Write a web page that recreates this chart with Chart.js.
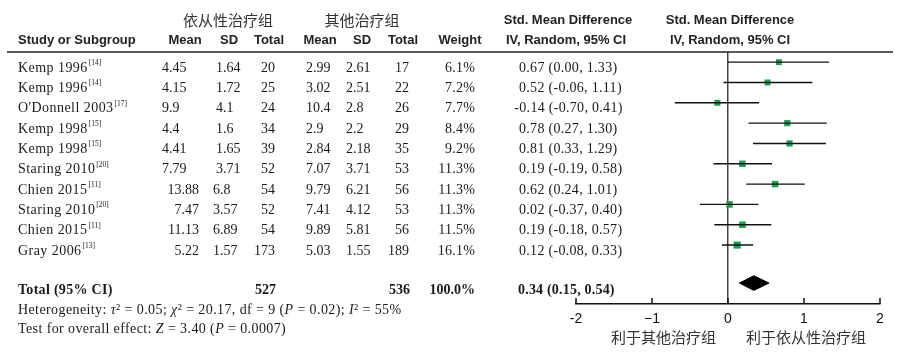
<!DOCTYPE html>
<html><head><meta charset="utf-8">
<script src="https://cdn.jsdelivr.net/npm/chart.js@4.4.1/dist/chart.umd.min.js"></script>
<style>html,body{margin:0;padding:0;background:#fff}#wrap{width:907px;height:353px;position:relative}</style>
</head><body><div id="wrap"><canvas id="c" width="907" height="353"></canvas></div>
<script>
// ---------- data ----------
const studies = ['Kemp 1996','Kemp 1996',"O'Donnell 2003",'Kemp 1998','Kemp 1998','Staring 2010','Chien 2015','Staring 2010','Chien 2015','Gray 2006'];
const refs = ['[14]','[14]','[17]','[15]','[15]','[20]','[11]','[20]','[11]','[13]'];
const expMean = [4.45,4.15,9.9,4.4,4.41,7.79,13.88,7.47,11.13,5.22];
const expSD = [1.64,1.72,4.1,1.6,1.65,3.71,6.8,3.57,6.89,1.57];
const expN = [20,25,24,34,39,52,54,52,54,173];
const ctlMean = [2.99,3.02,10.4,2.9,2.84,7.07,9.79,7.41,9.89,5.03];
const ctlSD = [2.61,2.51,2.8,2.2,2.18,3.71,6.21,4.12,5.81,1.55];
const ctlN = [17,22,26,29,35,53,56,53,56,189];
const weight = [6.1,7.2,7.7,8.4,9.2,11.3,11.3,11.3,11.5,16.1];
const smd = [0.67,0.52,-0.14,0.78,0.81,0.19,0.62,0.02,0.19,0.12];
const ciLow = [0.00,-0.06,-0.70,0.27,0.33,-0.19,0.24,-0.37,-0.18,-0.08];
const ciHigh = [1.33,1.11,0.41,1.30,1.29,0.58,1.01,0.40,0.57,0.33];
const totalLabel = 'Total (95% CI)';
const totalExpN = 527, totalCtlN = 536, totalWeight = 100.0;
const totalSmd = 0.34, totalLow = 0.15, totalHigh = 0.54;
const xTickValues = [-2,-1,0,1,2];
const xTickLabels = ['-2','\u22121','0','1','2'];
const groupLabels = ['依从性治疗组','其他治疗组'];
const favourLabels = ['利于其他治疗组','利于依从性治疗组'];
const effectTitle = 'Std. Mean Difference';
const methodTitle = 'IV, Random, 95% CI';
const colHeaders = ['Study or Subgroup','Mean','SD','Total','Mean','SD','Total','Weight'];
const heterogeneity = [['Heterogeneity: ',0],['τ',1],['² = 0.05; ',0],['χ',1],['² = 20.17, df = 9 (',0],['P',1],[' = 0.02); ',0],['I',1],['² = 55%',0]];
const overallTest = [['Test for overall effect: ',0],['Z',1],[' = 3.40 (',0],['P',1],[' = 0.0007)',0]];

// ---------- layout / style ----------
const SERIF = '"Liberation Serif","Times New Roman",serif';
const SANS = '"Liberation Sans",Arial,sans-serif';
const CJK = '"Noto Sans CJK SC",sans-serif';
const TXT = '#1a1a1a';
const fmt2 = v => v.toFixed(2);
const ciText = (m,l,h) => fmt2(m)+' ('+fmt2(l)+', '+fmt2(h)+')';
const totalRowY = 11.87;

const datasets = [];
studies.forEach((s,i)=>{
  datasets.push({type:'line', data:[{x:ciLow[i],y:i+1},{x:ciHigh[i],y:i+1}], borderColor:'#111', borderWidth:1.4, pointRadius:0, fill:false});
});
datasets.push({type:'scatter', data:smd.map((v,i)=>({x:v,y:i+1})), pointStyle:'rect',
  pointRadius: weight.map(w=>3.6+0.09*w), backgroundColor:'#1b9f52', borderColor:'#1b9f52', borderWidth:0});
datasets.push({type:'line', data:[{x:totalLow,y:totalRowY},{x:totalSmd,y:totalRowY-0.36},{x:totalHigh,y:totalRowY},{x:totalSmd,y:totalRowY+0.36},{x:totalLow,y:totalRowY}],
  fill:'shape', backgroundColor:'#000', borderColor:'#000', borderWidth:1, pointRadius:0, tension:0});

function txt(ctx, s, x, y, align, font, color, ls){
  ctx.font = font; ctx.textAlign = align; ctx.fillStyle = color || TXT; ctx.textBaseline = 'middle';
  ctx.letterSpacing = (ls || 0) + 'px';
  ctx.fillText(s, x, y);
  ctx.letterSpacing = '0px';
}
function segs(ctx, parts, x, y, size, ls){
  ctx.textBaseline = 'middle'; ctx.textAlign = 'left'; ctx.fillStyle = TXT;
  ctx.letterSpacing = ls + 'px';
  parts.forEach(([s,it])=>{
    ctx.font = (it?'italic ':'') + size + 'px ' + SERIF;
    ctx.fillText(s, x, y);
    x += ctx.measureText(s).width;
  });
  ctx.letterSpacing = '0px';
}

const tablePlugin = {
  id:'table',
  afterDraw(chart){
    const ctx = chart.ctx, xs = chart.scales.x, ys = chart.scales.y, ca = chart.chartArea;
    ctx.save();
    // header rule
    ctx.strokeStyle = '#222'; ctx.lineWidth = 1.5;
    ctx.beginPath(); ctx.moveTo(7, ca.top); ctx.lineTo(893, ca.top); ctx.stroke();
    // upward tick marks
    ctx.strokeStyle = '#111'; ctx.lineWidth = 1.5;
    xTickValues.forEach(v=>{ const px = xs.getPixelForValue(v); ctx.beginPath(); ctx.moveTo(px, ca.bottom-6); ctx.lineTo(px, ca.bottom); ctx.stroke(); });
    // headers
    const HB = 'bold 13px ' + SANS, HC = '15px ' + CJK;
    txt(ctx, groupLabels[0], 228, 20, 'center', HC, '#333');
    txt(ctx, groupLabels[1], 362, 20, 'center', HC, '#333');
    const mid = (ca.left+ca.right)/2;
    txt(ctx, effectTitle, 568, 20, 'center', HB, '#222');
    txt(ctx, effectTitle, mid+2, 20, 'center', HB, '#222');
    txt(ctx, colHeaders[0], 18, 40, 'left', HB, '#222');
    [185,229,269,320,362,403,460].forEach((cx,k)=>txt(ctx, colHeaders[k+1], cx, 40, 'center', HB, '#222'));
    txt(ctx, methodTitle, 566, 40, 'center', HB, '#222');
    txt(ctx, methodTitle, mid+2, 40, 'center', HB, '#222');
    // study rows
    const F = '14px ' + SERIF;
    studies.forEach((s,i)=>{
      const y = ys.getPixelForValue(i+1) + 6;
      txt(ctx, s, 18, y, 'left', F, TXT, 0.45);
      ctx.font = F; ctx.letterSpacing = '0.45px'; const w = ctx.measureText(s).width; ctx.letterSpacing = '0px';
      txt(ctx, refs[i], 18+w+1, y-5, 'left', '7.5px ' + SERIF);
      if (i < 6) txt(ctx, String(expMean[i]), 162, y, 'left', F);
      else txt(ctx, String(expMean[i]), 199, y, 'right', F);
      txt(ctx, String(expSD[i]), i<6?216:213, y, 'left', F);
      txt(ctx, String(expN[i]), 275, y, 'right', F);
      txt(ctx, String(ctlMean[i]), 306, y, 'left', F);
      txt(ctx, String(ctlSD[i]), 346, y, 'left', F);
      txt(ctx, String(ctlN[i]), 409, y, 'right', F);
      txt(ctx, weight[i].toFixed(1)+'%', 475, y, 'right', F, TXT, 0.2);
      ctx.font = F;
      const neg = smd[i] < 0 ? ctx.measureText('-').width : 0;
      txt(ctx, ciText(smd[i],ciLow[i],ciHigh[i]), 519-neg, y, 'left', F, TXT, 0.3);
    });
    // total row
    const FB = 'bold 14px ' + SERIF;
    const ty = ys.getPixelForValue(totalRowY) + 7.5;
    txt(ctx, totalLabel, 18, ty, 'left', FB, TXT, 0.3);
    txt(ctx, String(totalExpN), 276, ty, 'right', FB);
    txt(ctx, String(totalCtlN), 410, ty, 'right', FB);
    txt(ctx, totalWeight.toFixed(1)+'%', 475, ty, 'right', FB);
    txt(ctx, ciText(totalSmd,totalLow,totalHigh), 518, ty, 'left', FB, TXT, 0.2);
    segs(ctx, heterogeneity, 18, 310, 14, 0.4);
    segs(ctx, overallTest, 18, 329, 14, 0.4);
    // favour labels
    const zx = xs.getPixelForValue(0);
    txt(ctx, favourLabels[0], zx-12, 337, 'right', '15px ' + CJK, '#333');
    txt(ctx, favourLabels[1], zx+18, 337, 'left', '15px ' + CJK, '#333');
    ctx.restore();
  }
};

new Chart(document.getElementById('c'), {
  type:'scatter',
  data:{datasets},
  options:{
    responsive:false, animation:false, devicePixelRatio:1,
    layout:{padding:{left:576, right:27, top:52, bottom:0}},
    plugins:{legend:{display:false}, tooltip:{enabled:false}},
    scales:{
      x:{type:'linear', min:-2, max:2, position:'bottom',
        afterBuildTicks: s => { s.ticks = xTickValues.map(v=>({value:v})); },
        afterFit: s => { s.height = 49; },
        ticks:{callback: v => xTickLabels[xTickValues.indexOf(v)], font:{family:'"Liberation Sans",Arial,sans-serif', size:14}, color:'#111', padding:7, maxRotation:0, autoSkip:false},
        grid:{drawTicks:false, lineWidth:1.5, color: c => (c.tick && c.tick.value === 0) ? '#444' : 'rgba(0,0,0,0)'},
        border:{display:true, color:'#111', width:1.5}
      },
      y:{type:'linear', display:false, min:0.5, max:12.9, reverse:true}
    }
  },
  plugins:[tablePlugin]
});
</script>
</body></html>
